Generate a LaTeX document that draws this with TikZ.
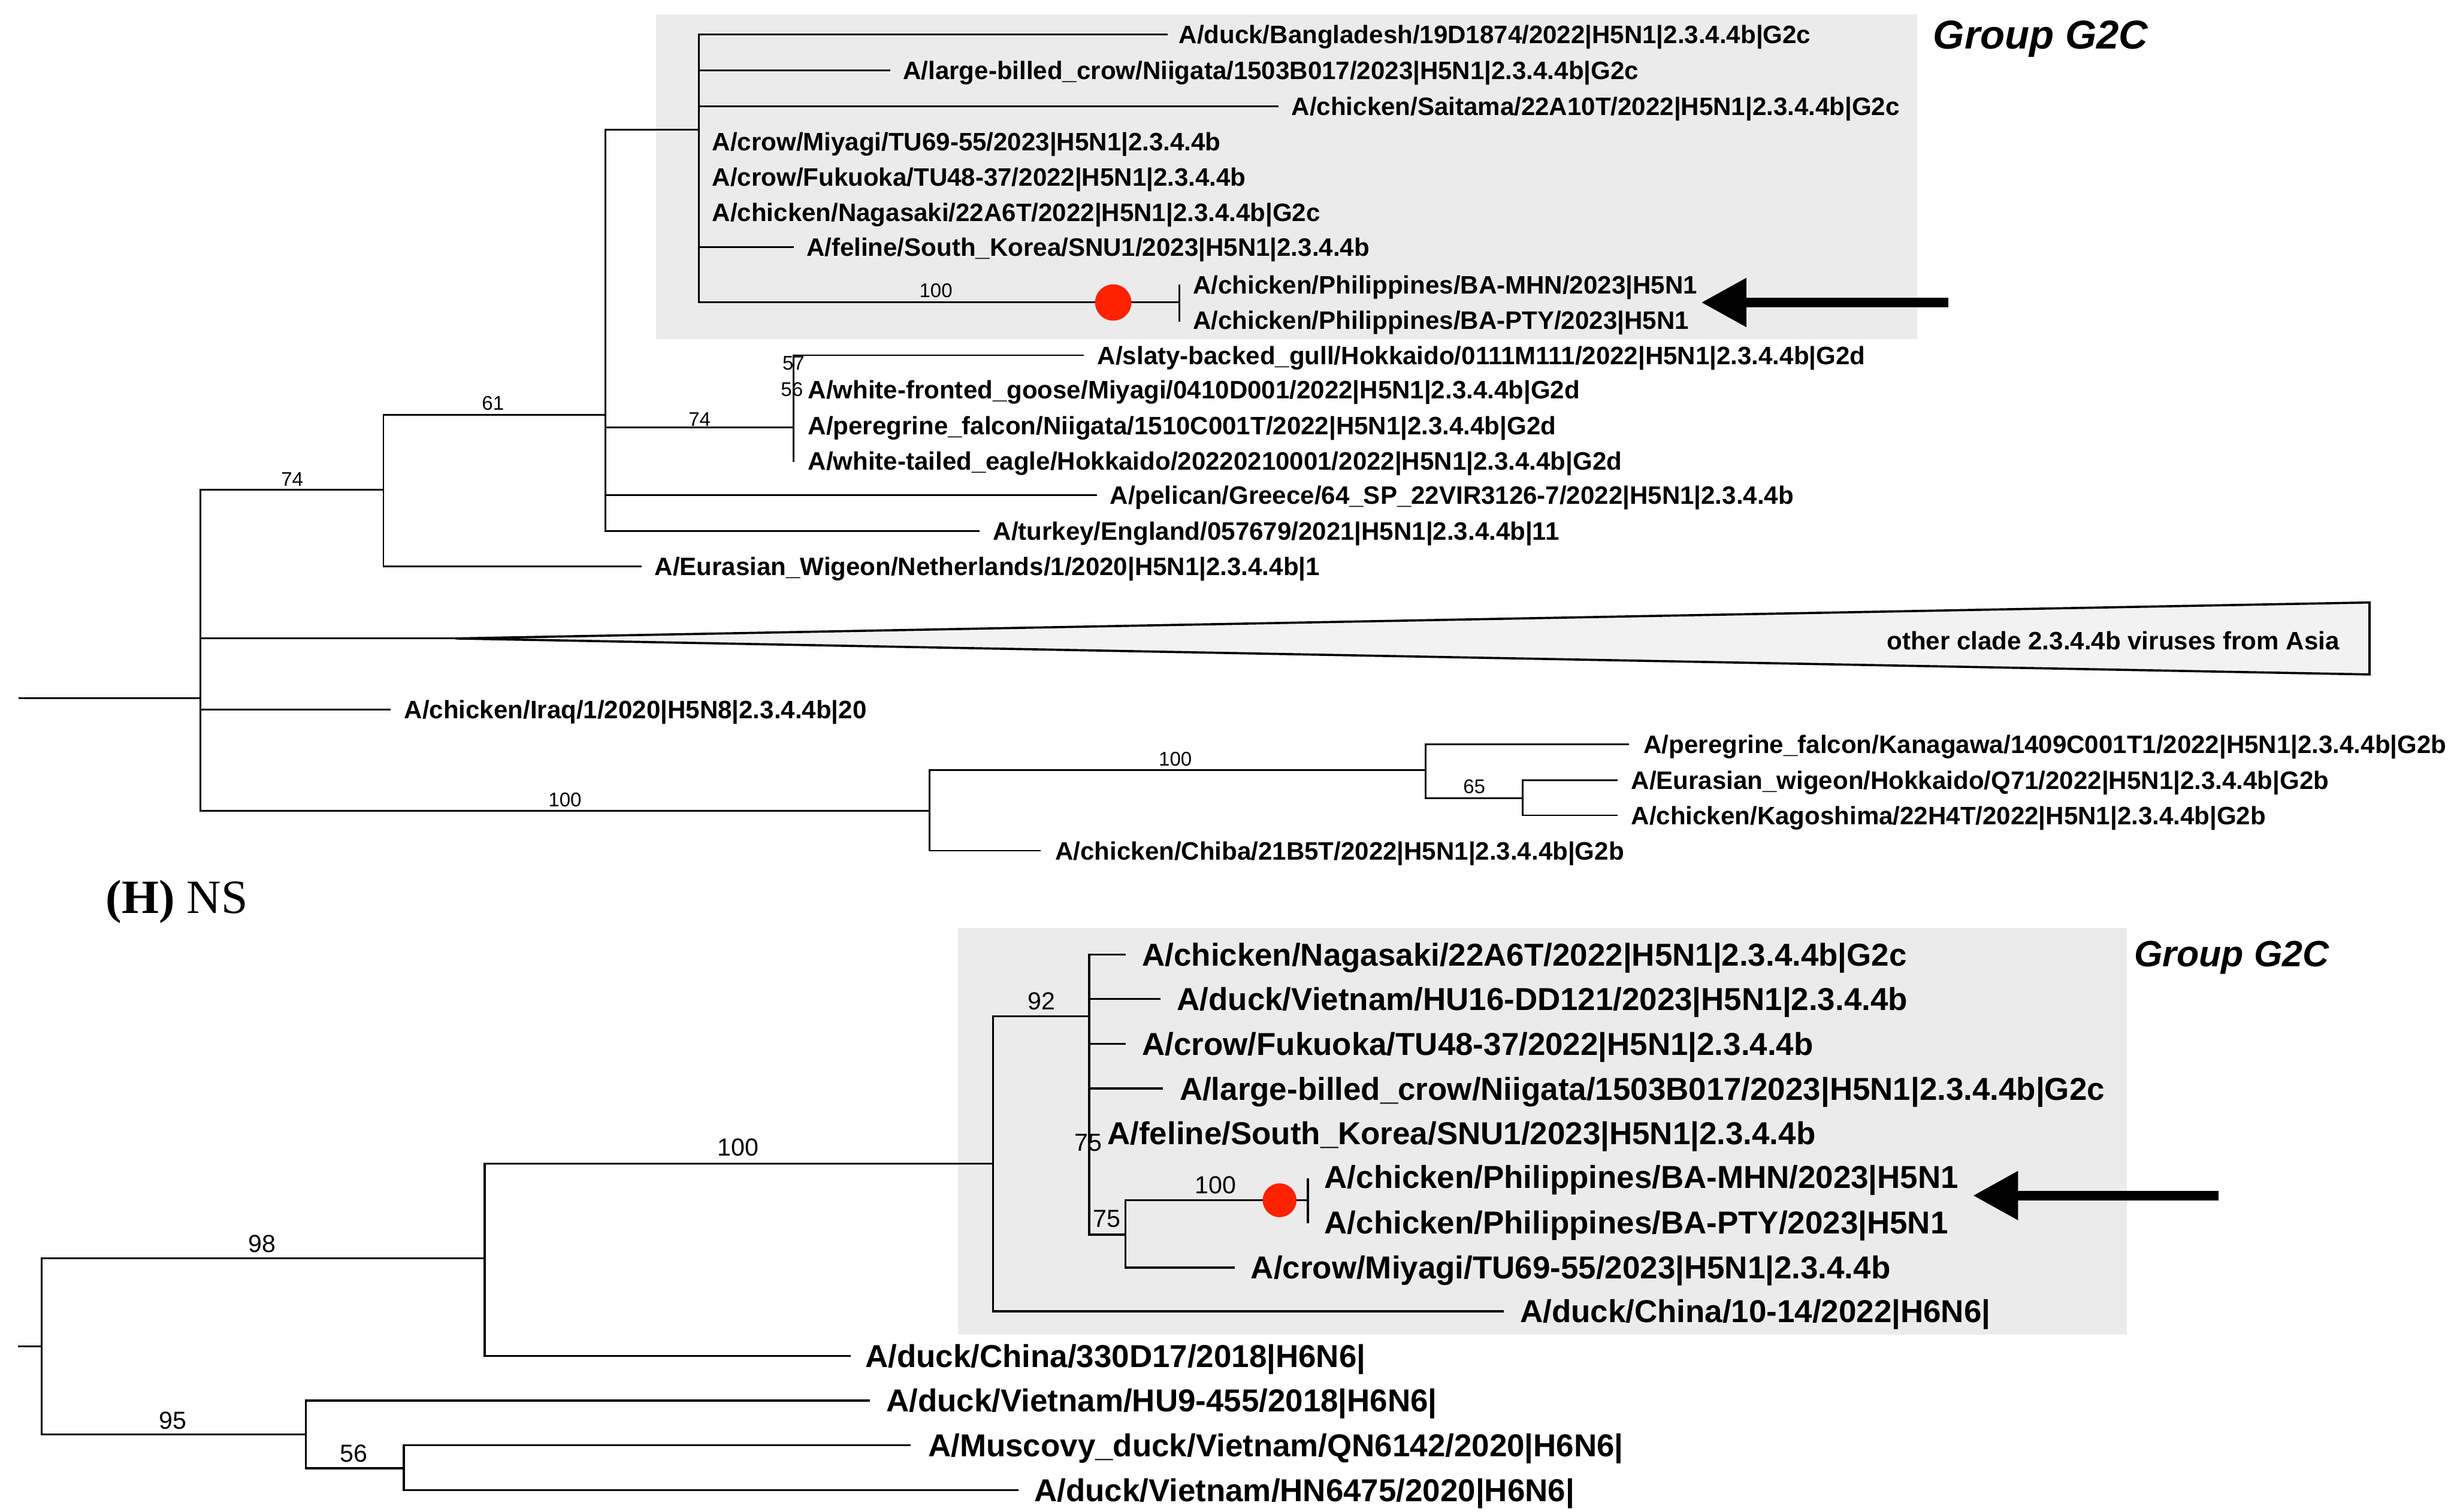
\documentclass[tikz,border=0pt]{standalone}
\usepackage{fontspec}
\setmainfont{Liberation Sans}
\newfontfamily\serifH{Liberation Serif}
\usetikzlibrary{arrows.meta}
\definecolor{boxgray}{HTML}{EBEBEB}
\definecolor{trigray}{HTML}{F2F2F2}
\definecolor{dotred}{HTML}{FF2200}
\begin{document}
\begin{tikzpicture}[x=0.025cm,y=-0.025cm,
  brA/.style={line width=0.8pt},
  brB/.style={line width=0.9pt},
  labA/.style={anchor=west, inner sep=0pt, font=\bfseries\fontsize{11.45}{13}\selectfont, text height=8.2pt, text depth=0pt},
  labB/.style={anchor=west, inner sep=0pt, font=\bfseries\fontsize{14.4}{16}\selectfont, text height=10.3pt, text depth=0pt},
  numA/.style={inner sep=0pt, font=\fontsize{9}{10}\selectfont, text height=6.4pt, text depth=0pt},
  numB/.style={inner sep=0pt, font=\fontsize{11.2}{12}\selectfont, text height=8pt, text depth=0pt},
  grpA/.style={anchor=west, inner sep=0pt, font=\bfseries\itshape\fontsize{18.3}{20}\selectfont, text height=13.1pt, text depth=0pt},
  grpB/.style={anchor=west, inner sep=0pt, font=\bfseries\itshape\fontsize{16.6}{18}\selectfont, text height=11.9pt, text depth=0pt},
  reddot/.style={circle, fill=dotred, inner sep=0pt, minimum size=0.58cm},
  bigarrow/.style={line width=4.5pt, -{Triangle[length=0.72cm, width=0.74cm]}},
]
\useasboundingbox (0,0) rectangle (1568,966);

% ---------- gray group boxes ----------
\fill[boxgray] (419,9) rectangle (1225,216.5);
\fill[boxgray] (612,593) rectangle (1359,853);

% ================= TOP TREE =================
\coordinate (rA0) at (12,446);
\coordinate (rA) at (128,446);
\coordinate (nA74) at (245,313);
\coordinate (nA61) at (387,265);
\coordinate (nG2C) at (446.4,83);
\coordinate (nG2d) at (507,273);
\coordinate (nPhA) at (753.4,193.3);
\coordinate (apex) at (291,408);
\coordinate (triT) at (1514,385);
\coordinate (triB) at (1514,431);
\coordinate (nA100a) at (594,518);
\coordinate (nA100b) at (911,492);
\coordinate (nA65) at (973,510);

\coordinate (tBang) at (746,22);
\coordinate (tLbc) at (568.8,45);
\coordinate (tSai) at (817,68);
\coordinate (tFel) at (507.4,158);
\coordinate (tMHNa) at (753.4,181.8);
\coordinate (tPTYa) at (753.4,205.6);
\coordinate (tSlaty) at (692.5,227);
\coordinate (tWT) at (507,295);
\coordinate (tPel) at (701,316.5);
\coordinate (tTur) at (626,339.3);
\coordinate (tWig) at (410,362);
\coordinate (tIraq) at (249.5,453.4);
\coordinate (tPer) at (1041,475.5);
\coordinate (tEw) at (1033.5,498.7);
\coordinate (tKag) at (1033.5,521);
\coordinate (tChiba) at (665,543.6);

% collapsed clade
\filldraw[fill=trigray, draw=black, line width=1pt, line join=miter] (apex) -- (triT) -- (triB) -- cycle;

\draw[brA] (rA0) -- (rA);
\draw[brA] (rA) |- (nA74);
\draw[brA] (rA) |- (apex);
\draw[brA] (rA) |- (tIraq);
\draw[brA] (rA) |- (nA100a);
\draw[brA] (nA74) |- (nA61);
\draw[brA] (nA74) |- (tWig);
\draw[brA] (nA61) |- (nG2C);
\draw[brA] (nA61) |- (nG2d);
\draw[brA] (nA61) |- (tPel);
\draw[brA] (nA61) |- (tTur);
\draw[brA] (nG2C) |- (tBang);
\draw[brA] (nG2C) |- (tLbc);
\draw[brA] (nG2C) |- (tSai);
\draw[brA] (nG2C) |- (tFel);
\draw[brA] (nG2C) |- (nPhA);
\draw[brA] (nPhA) |- (tMHNa);
\draw[brA] (nPhA) |- (tPTYa);
\draw[brA] (nG2d) |- (tSlaty);
\draw[brA] (nG2d) |- (tWT);
\draw[brA] (nA100a) |- (nA100b);
\draw[brA] (nA100a) |- (tChiba);
\draw[brA] (nA100b) |- (tPer);
\draw[brA] (nA100b) |- (nA65);
\draw[brA] (nA65) |- (tEw);
\draw[brA] (nA65) |- (tKag);

\node[reddot] (dotA) at (711.3,193.3) {};

% top leaf labels
\node[labA] (lBang) at (753,22) {A/duck/Bangladesh/19D1874/2022|H5N1|2.3.4.4b|G2c};
\node[labA] (lLbc) at (576.8,45) {A/large-billed\_crow/Niigata/1503B017/2023|H5N1|2.3.4.4b|G2c};
\node[labA] (lSai) at (825,68) {A/chicken/Saitama/22A10T/2022|H5N1|2.3.4.4b|G2c};
\node[labA] (lMiy) at (454.8,90.5) {A/crow/Miyagi/TU69-55/2023|H5N1|2.3.4.4b};
\node[labA] (lFuk) at (454.8,113) {A/crow/Fukuoka/TU48-37/2022|H5N1|2.3.4.4b};
\node[labA] (lNag) at (454.8,135.5) {A/chicken/Nagasaki/22A6T/2022|H5N1|2.3.4.4b|G2c};
\node[labA] (lFel) at (515,158) {A/feline/South\_Korea/SNU1/2023|H5N1|2.3.4.4b};
\node[labA] (lMHNa) at (762,182) {A/chicken/Philippines/BA-MHN/2023|H5N1};
\node[labA] (lPTYa) at (762,204.5) {A/chicken/Philippines/BA-PTY/2023|H5N1};
\node[labA] (lSlaty) at (701,227) {A/slaty-backed\_gull/Hokkaido/0111M111/2022|H5N1|2.3.4.4b|G2d};
\node[labA] (lWf) at (516,249) {A/white-fronted\_goose/Miyagi/0410D001/2022|H5N1|2.3.4.4b|G2d};
\node[labA] (lPf) at (516,272) {A/peregrine\_falcon/Niigata/1510C001T/2022|H5N1|2.3.4.4b|G2d};
\node[labA] (lWT) at (516,294.5) {A/white-tailed\_eagle/Hokkaido/20220210001/2022|H5N1|2.3.4.4b|G2d};
\node[labA] (lPel) at (709,316.5) {A/pelican/Greece/64\_SP\_22VIR3126-7/2022|H5N1|2.3.4.4b};
\node[labA] (lTur) at (634.3,339.3) {A/turkey/England/057679/2021|H5N1|2.3.4.4b|11};
\node[labA] (lWig) at (418,362) {A/Eurasian\_Wigeon/Netherlands/1/2020|H5N1|2.3.4.4b|1};
\node[labA, anchor=east] (lTri) at (1495,409.5) {other clade 2.3.4.4b viruses from Asia};
\node[labA] (lIraq) at (258,453.4) {A/chicken/Iraq/1/2020|H5N8|2.3.4.4b|20};
\node[labA] (lPer) at (1050,475.5) {A/peregrine\_falcon/Kanagawa/1409C001T1/2022|H5N1|2.3.4.4b|G2b};
\node[labA] (lEw) at (1042,498.7) {A/Eurasian\_wigeon/Hokkaido/Q71/2022|H5N1|2.3.4.4b|G2b};
\node[labA] (lKag) at (1042,521) {A/chicken/Kagoshima/22H4T/2022|H5N1|2.3.4.4b|G2b};
\node[labA] (lChiba) at (674,543.6) {A/chicken/Chiba/21B5T/2022|H5N1|2.3.4.4b|G2b};

% top bootstrap values
\node[numA] (bA1) at (186.7,306) {74};
\node[numA] (bA2) at (315,257.6) {61};
\node[numA] (bA3) at (447,268) {74};
\node[numA] (bA4) at (507,232) {57};
\node[numA] (bA5) at (506,248.7) {56};
\node[numA] (bA6) at (598,185.5) {100};
\node[numA] (bA7) at (361,511) {100};
\node[numA] (bA8) at (751,485) {100};
\node[numA] (bA9) at (942,502.6) {65};

\node[grpA] (gA) at (1235,22) {Group G2C};

\coordinate (arA0) at (1245,193.3);
\coordinate (arA1) at (1087,193.3);
\draw[bigarrow] (arA0) -- (arA1);

% ================= PANEL TITLE =================
\node[anchor=base west, inner sep=0pt, font=\serifH\fontsize{21.7}{24}\selectfont] (hns) at (67.4,583.6) {\textbf{(H)} NS};

% ================= BOTTOM TREE =================
\coordinate (rB0) at (11.4,860.4);
\coordinate (rB) at (26.5,860.4);
\coordinate (nB98) at (309.7,804.2);
\coordinate (nB100) at (634.6,743.7);
\coordinate (nB92) at (696,649.5);
\coordinate (nB75) at (719.2,789);
\coordinate (nBPh) at (835.7,767);
\coordinate (nB95) at (195.5,916.6);
\coordinate (nB56) at (258,938.3);

\coordinate (tBNag) at (719.2,610);
\coordinate (tBHU16) at (741.5,638.3);
\coordinate (tBFuk) at (719.2,667);
\coordinate (tBLbc) at (743.2,695.6);
\coordinate (tBMHN) at (835.7,752.8);
\coordinate (tBPTY) at (835.7,781.6);
\coordinate (tBMiy) at (788.8,810);
\coordinate (tBCh10) at (960.8,838);
\coordinate (tBCh330) at (543.5,866.5);
\coordinate (tBHU9) at (556,895);
\coordinate (tBMus) at (582,923.5);
\coordinate (tBHN) at (650.8,952.3);

\draw[brB] (rB0) -- (rB);
\draw[brB] (rB) |- (nB98);
\draw[brB] (rB) |- (nB95);
\draw[brB] (nB98) |- (nB100);
\draw[brB] (nB98) |- (tBCh330);
\draw[brB] (nB100) |- (nB92);
\draw[brB] (nB100) |- (tBCh10);
\draw[brB] (nB92) |- (tBNag);
\draw[brB] (nB92) |- (tBHU16);
\draw[brB] (nB92) |- (tBFuk);
\draw[brB] (nB92) |- (tBLbc);
\draw[brB] (nB92) |- (nB75);
\draw[brB] (nB75) |- (nBPh);
\draw[brB] (nB75) |- (tBMiy);
\draw[brB] (nBPh) |- (tBMHN);
\draw[brB] (nBPh) |- (tBPTY);
\draw[brB] (nB95) |- (tBHU9);
\draw[brB] (nB95) |- (nB56);
\draw[brB] (nB56) |- (tBMus);
\draw[brB] (nB56) |- (tBHN);

\node[reddot, minimum size=0.54cm] (dotB) at (817.6,767) {};

% bottom leaf labels
\node[labB] (mNag) at (729.5,610) {A/chicken/Nagasaki/22A6T/2022|H5N1|2.3.4.4b|G2c};
\node[labB] (mHU16) at (751.8,638.3) {A/duck/Vietnam/HU16-DD121/2023|H5N1|2.3.4.4b};
\node[labB] (mFuk) at (729.5,667) {A/crow/Fukuoka/TU48-37/2022|H5N1|2.3.4.4b};
\node[labB] (mLbc) at (753.5,695.6) {A/large-billed\_crow/Niigata/1503B017/2023|H5N1|2.3.4.4b|G2c};
\node[labB] (mFel) at (707.3,724) {A/feline/South\_Korea/SNU1/2023|H5N1|2.3.4.4b};
\node[labB] (mMHN) at (846,752) {A/chicken/Philippines/BA-MHN/2023|H5N1};
\node[labB] (mPTY) at (846,781) {A/chicken/Philippines/BA-PTY/2023|H5N1};
\node[labB] (mMiy) at (799,810) {A/crow/Miyagi/TU69-55/2023|H5N1|2.3.4.4b};
\node[labB] (mCh10) at (971,838) {A/duck/China/10-14/2022|H6N6|};
\node[labB] (mCh330) at (552.6,866.5) {A/duck/China/330D17/2018|H6N6|};
\node[labB] (mHU9) at (566,895) {A/duck/Vietnam/HU9-455/2018|H6N6|};
\node[labB] (mMus) at (592.8,923.5) {A/Muscovy\_duck/Vietnam/QN6142/2020|H6N6|};
\node[labB] (mHN) at (660.5,952.3) {A/duck/Vietnam/HN6475/2020|H6N6|};

% bottom bootstrap values
\node[numB] (bB1) at (167.6,794.5) {98};
\node[numB] (bB2) at (471.7,732.9) {100};
\node[numB] (bB3) at (110.5,907.4) {95};
\node[numB] (bB4) at (226,928.5) {56};
\node[numB] (bB5) at (665.5,639.5) {92};
\node[numB] (bB6) at (695.3,730) {75};
\node[numB] (bB7) at (707.3,778.4) {75};
\node[numB] (bB8) at (776.8,757.3) {100};

\node[grpB] (gB) at (1363.4,609.4) {Group G2C};

\coordinate (arB0) at (1417.6,764);
\coordinate (arB1) at (1260.6,764);
\draw[bigarrow] (arB0) -- (arB1);
\end{tikzpicture}
\end{document}
